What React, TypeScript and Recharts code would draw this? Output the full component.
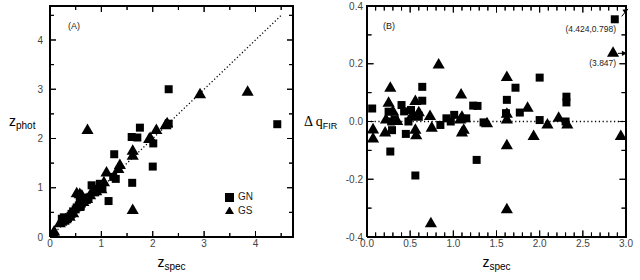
import React from 'react';
import { ScatterChart, Scatter, XAxis, YAxis, ZAxis, ReferenceLine, ReferenceDot, Legend, Label } from 'recharts';

const FONT = '"Liberation Sans", Arial, Helvetica, sans-serif';
const SERIF = '"Liberation Serif", "Times New Roman", serif';
const INK = '#000';
const TICK_INK = '#444';

// panel (A): photometric vs spectroscopic redshift
const aGN = [
    { x: 0.05, y: 0.05 }, { x: 0.23, y: 0.37 }, { x: 0.27, y: 0.40 }, { x: 0.30, y: 0.33 },
    { x: 0.35, y: 0.38 }, { x: 0.40, y: 0.43 }, { x: 0.42, y: 0.47 }, { x: 0.45, y: 0.52 },
    { x: 0.50, y: 0.56 }, { x: 0.52, y: 0.60 }, { x: 0.56, y: 0.64 }, { x: 0.58, y: 0.71 },
    { x: 0.60, y: 0.62 }, { x: 0.62, y: 0.68 }, { x: 0.64, y: 0.76 }, { x: 0.70, y: 0.78 },
    { x: 0.75, y: 0.80 }, { x: 0.81, y: 1.05 }, { x: 0.86, y: 0.93 }, { x: 0.88, y: 0.91 },
    { x: 0.92, y: 0.98 }, { x: 0.97, y: 1.08 }, { x: 1.02, y: 1.00 }, { x: 1.14, y: 0.73 },
    { x: 1.23, y: 1.22 }, { x: 1.28, y: 1.18 }, { x: 1.25, y: 1.68 }, { x: 1.60, y: 1.10 },
    { x: 1.59, y: 2.03 }, { x: 1.70, y: 2.02 }, { x: 1.75, y: 2.22 }, { x: 2.00, y: 1.43 },
    { x: 2.01, y: 1.90 }, { x: 2.31, y: 2.30 }, { x: 2.31, y: 3.00 }, { x: 4.424, y: 2.29 },
];
const aGS = [
    { x: 0.07, y: 0.06 }, { x: 0.08, y: 0.10 }, { x: 0.19, y: 0.27 }, { x: 0.22, y: 0.30 },
    { x: 0.30, y: 0.35 }, { x: 0.38, y: 0.40 }, { x: 0.45, y: 0.47 }, { x: 0.52, y: 0.88 },
    { x: 0.55, y: 0.60 }, { x: 0.58, y: 0.86 }, { x: 0.62, y: 0.83 }, { x: 0.65, y: 0.70 },
    { x: 0.68, y: 0.74 }, { x: 0.72, y: 0.76 }, { x: 0.73, y: 2.16 }, { x: 0.78, y: 0.84 },
    { x: 0.84, y: 0.90 }, { x: 0.90, y: 0.92 }, { x: 0.95, y: 0.98 }, { x: 1.00, y: 0.96 },
    { x: 1.05, y: 1.10 }, { x: 1.10, y: 1.30 }, { x: 1.33, y: 1.37 }, { x: 1.36, y: 1.45 },
    { x: 1.61, y: 0.54 }, { x: 1.61, y: 1.64 }, { x: 1.61, y: 1.74 }, { x: 1.93, y: 1.98 },
    { x: 1.95, y: 2.00 }, { x: 2.07, y: 2.16 }, { x: 2.25, y: 2.26 }, { x: 2.28, y: 2.30 },
    { x: 2.92, y: 2.89 }, { x: 3.847, y: 2.94 },
];
const aOneToOne = [{ x: 0, y: 0 }, { x: 4.5, y: 4.5 }];

// panel (B): q_FIR offset vs spectroscopic redshift
const bGN = [
    { x: 0.06, y: 0.045 }, { x: 0.25, y: 0.034 }, { x: 0.27, y: -0.104 }, { x: 0.28, y: 0.0 },
    { x: 0.29, y: -0.03 }, { x: 0.32, y: 0.008 }, { x: 0.40, y: 0.057 }, { x: 0.43, y: 0.035 },
    { x: 0.45, y: -0.043 }, { x: 0.48, y: 0.0 }, { x: 0.51, y: 0.04 }, { x: 0.56, y: -0.187 },
    { x: 0.60, y: 0.02 }, { x: 0.64, y: 0.072 }, { x: 0.64, y: 0.12 }, { x: 0.85, y: -0.012 },
    { x: 0.92, y: 0.011 }, { x: 0.97, y: 0.0 }, { x: 1.01, y: 0.023 }, { x: 1.15, y: 0.011 },
    { x: 1.23, y: 0.055 }, { x: 1.27, y: -0.133 }, { x: 1.28, y: 0.054 }, { x: 1.35, y: -0.003 },
    { x: 1.61, y: 0.029 }, { x: 1.62, y: 0.075 }, { x: 1.72, y: 0.117 }, { x: 1.77, y: 0.031 },
    { x: 2.0, y: 0.152 }, { x: 2.0, y: 0.005 }, { x: 2.3, y: 0.0 }, { x: 2.31, y: 0.066 },
    { x: 2.31, y: 0.086 }, { x: 2.87, y: 0.354 },
];
const bGS = [
    { x: 0.07, y: -0.029 }, { x: 0.07, y: -0.061 }, { x: 0.21, y: -0.04 }, { x: 0.22, y: 0.005 },
    { x: 0.25, y: 0.063 }, { x: 0.27, y: 0.115 }, { x: 0.30, y: 0.034 }, { x: 0.35, y: 0.0 },
    { x: 0.52, y: 0.02 }, { x: 0.56, y: 0.069 }, { x: 0.58, y: 0.015 }, { x: 0.56, y: -0.03 },
    { x: 0.57, y: -0.049 }, { x: 0.60, y: 0.03 }, { x: 0.73, y: 0.017 }, { x: 0.75, y: -0.023 },
    { x: 0.74, y: -0.354 }, { x: 0.83, y: 0.196 }, { x: 1.09, y: 0.092 }, { x: 1.10, y: 0.015 },
    { x: 1.08, y: 0.005 }, { x: 1.12, y: -0.03 }, { x: 1.10, y: -0.04 }, { x: 1.39, y: -0.008 },
    { x: 1.62, y: 0.152 }, { x: 1.62, y: 0.025 }, { x: 1.62, y: 0.005 }, { x: 1.62, y: -0.084 },
    { x: 1.62, y: -0.306 }, { x: 1.86, y: 0.046 }, { x: 1.93, y: -0.052 }, { x: 2.09, y: -0.012 },
    { x: 2.22, y: 0.011 }, { x: 2.32, y: -0.012 }, { x: 2.85, y: 0.236 }, { x: 2.94, y: -0.052 },
];
// off-scale points are flagged with arrows
const bArrowGN = [{ x: 2.95, y: 0.364 }, { x: 3.023, y: 0.39 }];
const bArrowGS = [{ x: 2.907, y: 0.236 }, { x: 3.01, y: 0.236 }];

const aMajor = [0, 1, 2, 3, 4];
const aAll = [0, 0.5, 1, 1.5, 2, 2.5, 3, 3.5, 4, 4.5];
const bxMajor = [0, 0.5, 1, 1.5, 2, 2.5, 3];
const bxAll = [
    0, 0.1, 0.2, 0.3, 0.4, 0.5, 0.6, 0.7, 0.8, 0.9, 1, 1.1, 1.2, 1.3, 1.4, 1.5,
    1.6, 1.7, 1.8, 1.9, 2, 2.1, 2.2, 2.3, 2.4, 2.5, 2.6, 2.7, 2.8, 2.9, 3,
];
const byMajor = [-0.4, -0.2, 0, 0.2, 0.4];
const byAll = [-0.4, -0.3, -0.2, -0.1, 0, 0.1, 0.2, 0.3, 0.4];

const frameLine = { stroke: INK, strokeWidth: 2 };

const isMajor = (major: number[], v: number) => major.some((m) => Math.abs(m - v) < 1e-9);

// tick positions along one edge of the box; len is the mark length in px
const edgeX = (values: number[], major: number[], y: number, big: number, small: number) =>
    values.map((v) => ({ x: v, y, len: isMajor(major, v) ? big : small }));
const edgeY = (values: number[], major: number[], x: number, big: number, small: number) =>
    values.map((v) => ({ x, y: v, len: isMajor(major, v) ? big : small }));

// a tick mark drawn inward from the edge point
const mark = (dx: number, dy: number) => (p: any) => {
    const len = p.payload && p.payload.len ? p.payload.len : 5;
    return <path d={`M${p.cx},${p.cy}L${p.cx + dx * len},${p.cy + dy * len}`} stroke={INK} strokeWidth={1} fill="none" />;
};
const markUp = mark(0, -1);
const markDown = mark(0, 1);
const markRight = mark(1, 0);
const markLeft = mark(-1, 0);

// x axis tick: label under the box for the major values, inward marks at bottom and top
const xLabel = (major: number[], plotH: number, big: number, small: number, fmt: (v: number) => string) => (p: any) => {
    const v = p.payload.value;
    const on = isMajor(major, v);
    const len = on ? big : small;
    return (
        <g>
            <path d={`M${p.x},${p.y}L${p.x},${p.y - len}M${p.x},${p.y - plotH}L${p.x},${p.y - plotH + len}`} stroke={INK} strokeWidth={1} fill="none" />
            {on && <text x={p.x} y={p.y + 3} dy="0.71em" textAnchor="middle" fontSize={10} fontFamily={FONT} fill={TICK_INK}>{fmt(v)}</text>}
        </g>
    );
};

// y axis tick: label left of the box for the major values, inward marks at left and right
const yLabel = (major: number[], plotW: number, big: number, small: number, gap: number, fmt: (v: number) => string) => (p: any) => {
    const v = p.payload.value;
    const on = isMajor(major, v);
    const len = on ? big : small;
    return (
        <g>
            <path d={`M${p.x},${p.y}L${p.x + len},${p.y}M${p.x + plotW},${p.y}L${p.x + plotW - len},${p.y}`} stroke={INK} strokeWidth={1} fill="none" />
            {on && <text x={p.x - gap} y={p.y} dy="0.355em" textAnchor="end" fontSize={10} fontFamily={FONT} fill={TICK_INK}>{fmt(v)}</text>}
        </g>
    );
};

const textAt = (value: string, anchor: string, size = 9) => (p: any) => (
    <text x={p.cx} y={p.cy} textAnchor={anchor} fontSize={size} fontFamily={FONT} fill="#222">{value}</text>
);

const arrowHead = (angle: number) => (p: any) => (
    <path d="M0,0 L-5,-2.6 L-5,2.6 Z" fill={INK} transform={`translate(${p.cx},${p.cy}) rotate(${angle})`} />
);

const ZSpecTitle = ({ viewBox }: any) => (
    <text x={viewBox.x + viewBox.width / 2} y={viewBox.y + 30} textAnchor="middle" fontFamily={FONT} fill={INK}>
        <tspan fontSize={14}>z</tspan>
        <tspan fontSize={10} dy={3}>spec</tspan>
    </text>
);

const ZPhotTitle = ({ viewBox }: any) => (
    <text x={viewBox.x + 9} y={viewBox.y + viewBox.height / 2 + 4} fontFamily={FONT} fill={INK}>
        <tspan fontSize={14}>z</tspan>
        <tspan fontSize={10} dy={3}>phot</tspan>
    </text>
);

const DeltaQTitle = ({ viewBox }: any) => (
    <text x={viewBox.x + 8} y={viewBox.y + viewBox.height / 2 + 4} fill={INK}>
        <tspan fontSize={14} fontFamily={SERIF}>Δ q</tspan>
        <tspan fontSize={9} fontFamily={FONT} dy={3}>FIR</tspan>
    </text>
);

// top and right sides of a plot box
function BoxEdge({ left, top, width, height }: { left: number; top: number; width: number; height: number }) {
    return (
        <div style={{
            position: 'absolute', left: left - 1, top: top - 1, width: width + 2, height: height + 2,
            boxSizing: 'border-box', borderTop: '2px solid #000', borderRight: '2px solid #000', pointerEvents: 'none',
        }} />
    );
}

function PanelA() {
    const xDom = [0, 4.73];
    const yDom = [0, 4.69];
    const fmt = (v: number) => String(v);
    // plot box is 243 x 231 px
    return (
        <ScatterChart width={300} height={280} margin={{ top: 6, right: 7, bottom: 0, left: 0 }}>
            <XAxis dataKey="x" type="number" domain={xDom} allowDataOverflow ticks={aAll} interval={0}
                   height={43} tickSize={0} tickMargin={0} tickLine={false} axisLine={frameLine} tick={xLabel(aMajor, 231, 6, 4, fmt)}>
                <Label content={ZSpecTitle} />
            </XAxis>
            <YAxis dataKey="y" type="number" domain={yDom} allowDataOverflow ticks={aAll} interval={0}
                   width={50} tickSize={0} tickMargin={0} tickLine={false} axisLine={frameLine} tick={yLabel(aMajor, 243, 6, 4, 7, fmt)}>
                <Label content={ZPhotTitle} />
            </YAxis>
            <ZAxis zAxisId="sq" range={[72, 72]} />
            <ZAxis zAxisId="tri" range={[52, 52]} />
            <Scatter data={edgeX(aAll, aMajor, yDom[0], 6, 4)} zAxisId="sq" shape={markUp} legendType="none" isAnimationActive={false} />
            <Scatter data={edgeX(aAll, aMajor, yDom[1], 6, 4)} zAxisId="sq" shape={markDown} legendType="none" isAnimationActive={false} />
            <Scatter data={edgeY(aAll, aMajor, xDom[0], 6, 4)} zAxisId="sq" shape={markRight} legendType="none" isAnimationActive={false} />
            <Scatter data={edgeY(aAll, aMajor, xDom[1], 6, 4)} zAxisId="sq" shape={markLeft} legendType="none" isAnimationActive={false} />
            <ReferenceLine segment={aOneToOne} stroke={INK} strokeWidth={1.3} strokeDasharray="1.2 2.3" />
            <Scatter name="GN" data={aGN} zAxisId="sq" shape="square" legendType="square" fill={INK} isAnimationActive={false} />
            <Scatter name="GS" data={aGS} zAxisId="tri" shape="triangle" legendType="triangle" fill={INK} isAnimationActive={false} />
            <ReferenceDot x={0.35} y={4.23} r={0} shape={textAt('(A)', 'start')} />
            <Legend layout="vertical" align="center" verticalAlign="middle" iconSize={9}
                    wrapperStyle={{ left: 225, top: 190, fontSize: 10, lineHeight: '14px', fontFamily: FONT }}
                    formatter={(v: string) => <span style={{ color: '#222' }}>{v}</span>} />
        </ScatterChart>
    );
}

function PanelB() {
    const xDom = [0, 3];
    const yDom = [-0.4, 0.4];
    const fmt = (v: number) => v.toFixed(1);
    // plot box is 259 x 231 px
    return (
        <ScatterChart width={344} height={280} margin={{ top: 6, right: 14, bottom: 0, left: 0 }}>
            <XAxis dataKey="x" type="number" domain={xDom} allowDataOverflow ticks={bxAll} interval={0}
                   height={43} tickSize={0} tickMargin={0} tickLine={false} axisLine={frameLine} tick={xLabel(bxMajor, 231, 6.5, 4.5, fmt)}>
                <Label content={ZSpecTitle} />
            </XAxis>
            <YAxis dataKey="y" type="number" domain={yDom} allowDataOverflow ticks={byAll} interval={0}
                   width={71} tickSize={0} tickMargin={0} tickLine={false} axisLine={frameLine} tick={yLabel(byMajor, 259, 6.5, 4.5, 4, fmt)}>
                <Label content={DeltaQTitle} />
            </YAxis>
            <ZAxis zAxisId="sq" range={[72, 72]} />
            <ZAxis zAxisId="tri" range={[52, 52]} />
            <Scatter data={edgeX(bxAll, bxMajor, yDom[0], 6.5, 4.5)} zAxisId="sq" shape={markUp} legendType="none" isAnimationActive={false} />
            <Scatter data={edgeX(bxAll, bxMajor, yDom[1], 6.5, 4.5)} zAxisId="sq" shape={markDown} legendType="none" isAnimationActive={false} />
            <Scatter data={edgeY(byAll, byMajor, xDom[0], 6.5, 4.5)} zAxisId="sq" shape={markRight} legendType="none" isAnimationActive={false} />
            <Scatter data={edgeY(byAll, byMajor, xDom[1], 6.5, 4.5)} zAxisId="sq" shape={markLeft} legendType="none" isAnimationActive={false} />
            <ReferenceLine y={0} stroke={INK} strokeWidth={1.3} strokeDasharray="1.2 2.6" />
            <Scatter name="GN" data={bGN} zAxisId="sq" shape="square" fill={INK} isAnimationActive={false} />
            <Scatter name="GS" data={bGS} zAxisId="tri" shape="triangle" fill={INK} isAnimationActive={false} />
            <ReferenceLine segment={bArrowGN} stroke={INK} strokeWidth={1} ifOverflow="visible" />
            <ReferenceLine segment={bArrowGS} stroke={INK} strokeWidth={1} ifOverflow="visible" />
            <ReferenceDot x={3.023} y={0.39} r={0} ifOverflow="visible" shape={arrowHead(-35)} />
            <ReferenceDot x={3.01} y={0.236} r={0} ifOverflow="visible" shape={arrowHead(0)} />
            <ReferenceDot x={0.185} y={0.32} r={0} shape={textAt('(B)', 'start')} />
            <ReferenceDot x={2.884} y={0.31} r={0} shape={textAt('(4.424,0.798)', 'end', 8.5)} />
            <ReferenceDot x={2.73} y={0.191} r={0} shape={textAt('(3.847)', 'middle', 8.5)} />
        </ScatterChart>
    );
}

export default function App() {
    return (
        <div style={{ position: 'absolute', left: 0, top: 0, width: 640, height: 280, background: '#fff', fontFamily: FONT }}>
            <div style={{ position: 'absolute', left: 0, top: 0 }}>
                <PanelA />
            </div>
            <div style={{ position: 'absolute', left: 296, top: 0 }}>
                <PanelB />
            </div>
            <BoxEdge left={50} top={6} width={243} height={231} />
            <BoxEdge left={367} top={6} width={259} height={231} />
        </div>
    );
}
